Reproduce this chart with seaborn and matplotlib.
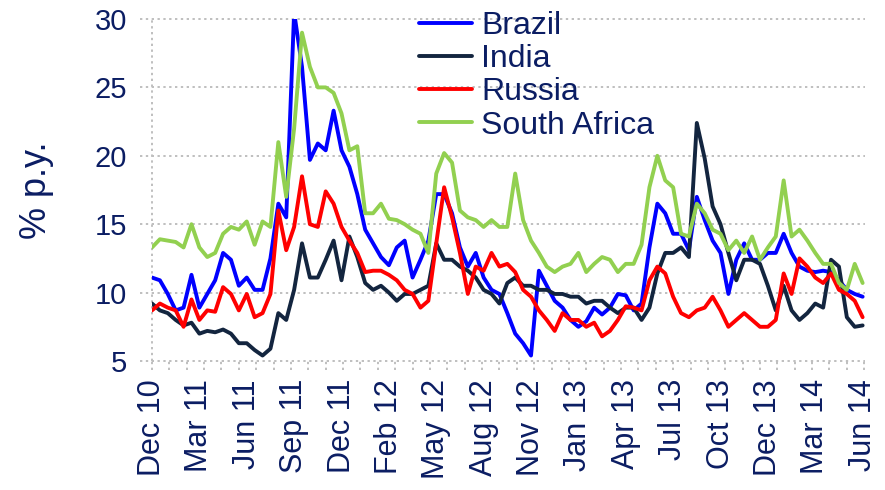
import numpy as np
import pandas as pd
import matplotlib
matplotlib.use("Agg")
import matplotlib.pyplot as plt
import seaborn as sns

# implied vol readings, one point every 10 trading days from Dec 10
days = np.arange(0, 910, 10)

brazil = [11.1, 10.9, 9.9, 8.7, 8.9, 11.3, 8.9, 9.9, 10.9, 12.9,
          12.4, 10.5, 11.1, 10.2, 10.2, 12.5, 16.5, 15.5, 30.5, 26.5,
          19.7, 20.9, 20.4, 23.3, 20.4, 19.2, 17.2, 14.6, 13.6, 12.6,
          12.0, 13.3, 13.8, 11.1, 12.4, 13.8, 17.2, 17.2, 15.8, 13.3,
          11.9, 12.9, 11.1, 10.2, 9.9, 8.5, 7.0, 6.3, 5.4, 11.6,
          10.5, 9.4, 8.9, 8.0, 7.5, 7.9, 8.9, 8.4, 8.9, 9.9,
          9.8, 8.7, 9.2, 13.3, 16.5, 15.8, 14.3, 14.3, 13.1, 17.0,
          15.3, 13.8, 12.9, 9.9, 12.4, 13.6, 12.4, 12.4, 12.9, 12.9,
          14.3, 12.9, 11.9, 11.6, 11.5, 11.6, 11.5, 10.9, 10.2, 9.9, 9.7]

india = [9.2, 8.7, 8.5, 8.0, 7.6, 7.8, 7.0, 7.2, 7.1, 7.3,
         7.0, 6.3, 6.3, 5.8, 5.4, 5.9, 8.5, 8.0, 10.2, 13.6,
         11.1, 11.1, 12.4, 13.8, 10.9, 14.1, 12.6, 10.7, 10.2, 10.5,
         10.0, 9.4, 9.9, 9.9, 10.2, 10.5, 13.6, 12.4, 12.4, 11.9,
         11.6, 11.1, 10.2, 9.9, 9.2, 10.7, 11.1, 10.5, 10.5, 10.2,
         10.2, 9.9, 9.9, 9.7, 9.7, 9.2, 9.4, 9.4, 8.9, 8.5,
         8.9, 8.9, 8.0, 8.9, 11.4, 12.9, 12.9, 13.3, 12.6, 22.4,
         19.8, 16.3, 15.0, 12.9, 10.9, 12.4, 12.4, 12.1, 10.5, 8.7,
         10.5, 8.7, 8.0, 8.5, 9.2, 8.9, 12.4, 11.9, 8.2, 7.5, 7.6]

russia = [8.7, 9.2, 8.9, 8.7, 7.5, 9.5, 8.0, 8.7, 8.6, 10.4,
          9.9, 8.7, 9.9, 8.2, 8.5, 9.9, 16.0, 13.1, 14.8, 18.5,
          15.0, 14.8, 17.4, 16.5, 14.8, 13.8, 12.9, 11.5, 11.6, 11.6,
          11.3, 10.9, 10.2, 9.9, 8.9, 9.4, 13.6, 17.7, 15.5, 12.9,
          9.9, 11.9, 11.6, 12.9, 11.9, 12.1, 11.5, 10.2, 9.7, 8.7,
          8.0, 7.2, 8.5, 8.0, 8.0, 7.5, 7.8, 6.8, 7.2, 8.0,
          9.0, 8.9, 8.7, 10.9, 11.9, 11.4, 9.7, 8.5, 8.2, 8.7,
          8.9, 9.7, 8.7, 7.5, 8.0, 8.5, 8.0, 7.5, 7.5, 8.0,
          11.4, 9.9, 12.5, 11.9, 11.1, 10.7, 11.4, 10.2, 9.9, 9.4, 8.2]

south_africa = [13.3, 13.9, 13.8, 13.7, 13.3, 15.0, 13.3, 12.6, 12.9, 14.3,
                14.8, 14.6, 15.2, 13.5, 15.2, 14.8, 21.0, 17.0, 22.0, 29.0,
                26.5, 25.0, 25.0, 24.6, 23.1, 20.4, 20.7, 15.8, 15.8, 16.5,
                15.4, 15.3, 15.0, 14.6, 14.3, 12.9, 18.7, 20.2, 19.5, 16.0,
                15.5, 15.3, 14.8, 15.3, 14.8, 14.8, 18.7, 15.3, 13.8, 12.9,
                11.9, 11.5, 11.9, 12.1, 12.9, 11.5, 12.1, 12.6, 12.4, 11.5,
                12.1, 12.1, 13.5, 17.7, 20.0, 18.2, 17.7, 14.3, 14.1, 16.5,
                15.8, 14.6, 14.3, 13.1, 13.8, 12.9, 14.1, 12.4, 13.3, 14.1,
                18.2, 14.1, 14.6, 13.8, 12.9, 12.1, 12.1, 10.7, 10.2, 12.1, 10.7]

tick_days = np.arange(0, 901, 60)
tick_labels = ["Dec 10", "Mar 11", "Jun 11", "Sep 11", "Dec 11", "Feb 12",
               "May 12", "Aug 12", "Nov 12", "Jan 13", "Apr 13", "Jul 13",
               "Oct 13", "Dec 13", "Mar 14", "Jun 14"]

countries = ["Brazil", "India", "Russia", "South Africa"]
colors = {"Brazil": "#0000ff", "India": "#13253f",
          "Russia": "#ff0000", "South Africa": "#92d050"}

df = pd.concat([
    pd.DataFrame({"day": days, "vol": vals, "country": name})
    for name, vals in zip(countries, [brazil, india, russia, south_africa])
], ignore_index=True)

sns.set_theme(style="white")
plt.rcParams["font.family"] = ["Liberation Sans", "DejaVu Sans"]
navy = "#0b1d63"
grid_col = "#bfbfbf"

fig = plt.figure(figsize=(8.85, 4.9), dpi=100)
ax = fig.add_axes([152 / 885, 1 - 361 / 490, 713 / 885, 342 / 490])

sns.lineplot(data=df, x="day", y="vol", hue="country", hue_order=countries,
             palette=colors, linewidth=2.8, estimator=None, sort=False,
             legend=False, ax=ax)

ax.set_xlim(0, 903)
ax.set_ylim(5, 30)
for s in ax.spines.values():
    s.set_visible(False)

# dotted gridlines, running a bit past the left axis like the tick marks
dot = (0, (1.2, 1.8))
for v in range(5, 31, 5):
    ax.plot([-12 / 713, 1], [v, v], transform=ax.get_yaxis_transform(),
            color=grid_col, lw=1.4, ls=dot, clip_on=False, zorder=0)
ax.plot([0, 0], [0, 1], transform=ax.get_xaxis_transform(),
        color=grid_col, lw=1.4, ls=dot, clip_on=False, zorder=0)
for d in np.arange(0, 904, 22):
    ax.plot([d, d], [-9 / 342, 0], transform=ax.get_xaxis_transform(),
            color=grid_col, lw=1.4, ls=dot, clip_on=False, zorder=0)

ax.set_yticks(range(5, 31, 5))
ax.set_xticks(tick_days)
ax.set_xticklabels(tick_labels, rotation=90)
ax.tick_params(axis="y", length=0, pad=18, labelsize=21, labelcolor=navy)
ax.tick_params(axis="x", length=0, pad=13, labelsize=22, labelcolor=navy)
ax.set_xlabel("")
ax.set_ylabel("% p.y.", fontsize=26, color=navy, labelpad=29)

handles = ax.get_lines()[:4]
ax.legend(handles, countries, loc="upper left", frameon=False,
          bbox_to_anchor=(419 / 885, 1 - 11 / 490), bbox_transform=fig.transFigure,
          borderpad=0, borderaxespad=0, handlelength=1.65, handletextpad=0.3,
          labelspacing=0.1, prop={"size": 23}, labelcolor=navy)

fig.savefig("out.png", dpi=100)
